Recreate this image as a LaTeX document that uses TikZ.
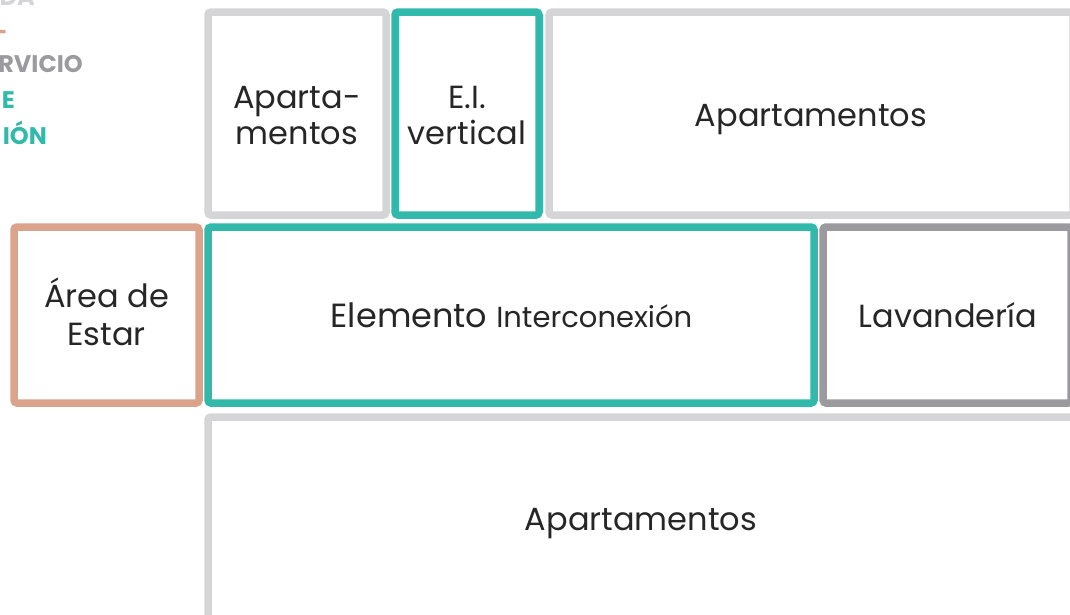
\documentclass[tikz,border=0pt]{standalone}
\usepackage{fontspec}
\setmainfont{Poppins}
\definecolor{teal1}{HTML}{31B9AB}
\definecolor{salmon1}{HTML}{DBA38C}
\definecolor{gray1}{HTML}{D5D5D7}
\definecolor{gray2}{HTML}{9A9A9F}
\definecolor{txt}{HTML}{262626}
\begin{document}
\begin{tikzpicture}[x=1pt,y=-1pt,
  room/.style={draw, rectangle, rounded corners=3pt, line width=7.5pt, fill=white, inner sep=0pt},
  grayroom/.style={room, draw=gray1},
  tealroom/.style={room, draw=teal1},
  salroom/.style={room, draw=salmon1},
  darkroom/.style={room, draw=gray2},
  lbl/.style={anchor=base, inner sep=0pt, text=txt, font=\fontsize{32}{38}\selectfont},
  legend/.style={anchor=base east, inner sep=0pt, font=\fontsize{24}{28}\selectfont\bfseries}
]
\useasboundingbox (0,0) rectangle (1070,614);
\clip (0,0) rectangle (1070,614);
% left legend (cut off)
\node[legend, text=gray1] (l1) at (35,5) {DA};
\node[legend, text=salmon1] (l2) at (8,40) {-};
\node[legend, text=gray2] (l3) at (83,72) {RVICIO};
\node[legend, text=teal1] (l4) at (15,108) {E};
\node[legend, text=teal1] (l5) at (47,144) {IÓN};
% rooms
\node[grayroom, minimum width=178, minimum height=203] (apt1) at (297,113.5) {};
\node[tealroom, minimum width=144, minimum height=203] (ei) at (467,113.5) {};
\node[grayroom, minimum width=524, minimum height=203] (apt2) at (811,113.5) {};
\node[salroom, minimum width=185, minimum height=176] (area) at (106.5,315) {};
\node[tealroom, minimum width=606, minimum height=176] (elem) at (511,315) {};
\node[darkroom, minimum width=248, minimum height=176] (lav) at (947,315) {};
\node[grayroom, minimum width=866, minimum height=204] (apt3) at (641,519) {};
% labels
\node[lbl] (t1a) at (297,108) {Aparta-};
\node[lbl] (t1b) at (297,144) {mentos};
\node[lbl] (t2a) at (467,108) {E.I.};
\node[lbl] (t2b) at (467,144) {vertical};
\node[lbl] (t3) at (811,126) {Apartamentos};
\node[lbl] (t4a) at (106.5,307) {Área de};
\node[lbl] (t4b) at (106.5,345) {Estar};
\node[lbl] (t5) at (511.5,327) {\fontsize{33.5}{38}\selectfont Elemento {\fontsize{29}{34}\selectfont Interconexión}};
\node[lbl] (t6) at (948,327) {Lavandería};
\node[lbl] (t7) at (641,530) {Apartamentos};
\end{tikzpicture}
\end{document}
